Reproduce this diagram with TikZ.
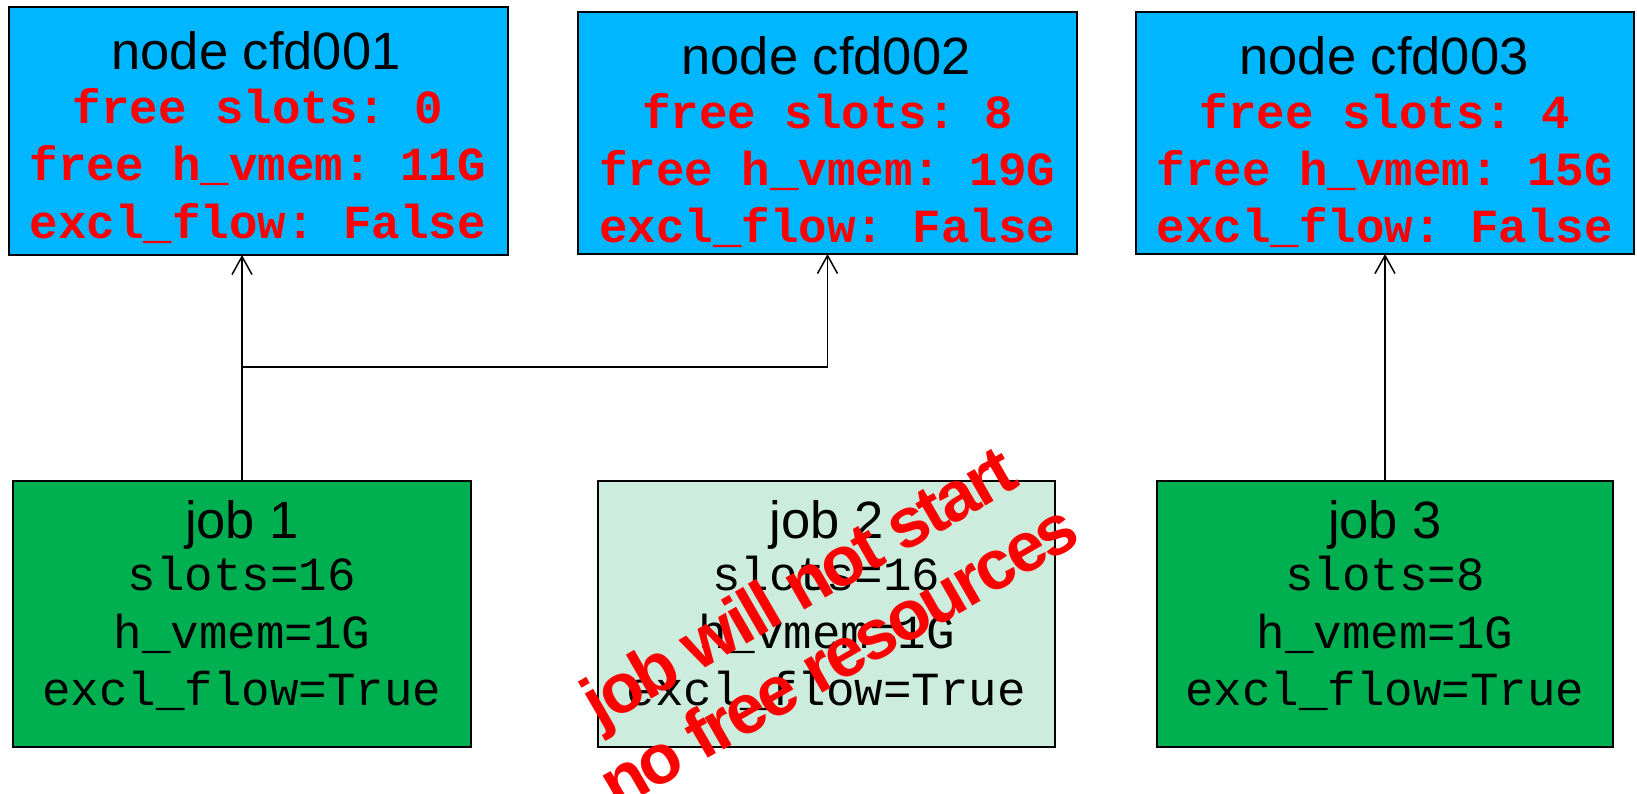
\documentclass[tikz,border=0pt]{standalone}
\usepackage{fontspec}
\setmainfont{Liberation Sans}
\setmonofont{Liberation Mono}
\newfontfamily\warnfont[LetterSpace=-5]{Liberation Sans}
\usetikzlibrary{arrows.meta}
\definecolor{hostblue}{HTML}{00B7FF}
\definecolor{jobgreen}{HTML}{00B050}
\definecolor{jobpale}{HTML}{CCECDD}
\definecolor{alertred}{HTML}{FF0000}
\begin{document}
\begin{tikzpicture}[x=1pt,y=-1pt,
  box/.style={draw=black, line width=1.5pt, inner sep=0pt, outer sep=0pt},
  hostbox/.style={box, fill=hostblue},
  runbox/.style={box, fill=jobgreen},
  waitbox/.style={box, fill=jobpale},
  title/.style={anchor=base, inner sep=0pt, font=\fontsize{52.5}{60}\selectfont},
  stat/.style={anchor=base, inner sep=0pt, text=alertred, font=\fontsize{47.5}{55}\selectfont\ttfamily\bfseries},
  req/.style={anchor=base, inner sep=0pt, font=\fontsize{47.5}{55}\selectfont\ttfamily},
  link/.style={draw=black, line width=1.5pt},
  arr/.style={link, -{Straight Barb[length=18pt, width=20pt, line width=1.5pt]}}
]
\clip (0,0) rectangle (1637,793);
\fill[white] (0,0) rectangle (1637,793);

% execution hosts
\node[hostbox, minimum width=499pt, minimum height=248pt] (n1) at (258.5,131) {};
\node[hostbox, minimum width=499pt, minimum height=242pt] (n2) at (827.5,133) {};
\node[hostbox, minimum width=498pt, minimum height=242pt] (n3) at (1385,133) {};

\node[title] (n1t) at (256,69) {node cfd001};
\node[stat]  (n1a) at (258,123) {free slots: 0};
\node[stat]  (n1b) at (258,180) {free h\_vmem: 11G};
\node[stat]  (n1c) at (258,238) {excl\_flow: False};

\node[title] (n2t) at (826,74) {node cfd002};
\node[stat]  (n2a) at (827.5,128) {free slots: 8};
\node[stat]  (n2b) at (827.5,185) {free h\_vmem: 19G};
\node[stat]  (n2c) at (827.5,242) {excl\_flow: False};

\node[title] (n3t) at (1384,74) {node cfd003};
\node[stat]  (n3a) at (1385,128) {free slots: 4};
\node[stat]  (n3b) at (1385,185) {free h\_vmem: 15G};
\node[stat]  (n3c) at (1385,242) {excl\_flow: False};

% jobs
\node[runbox,  minimum width=458pt, minimum height=266pt] (j1) at (242,614) {};
\node[waitbox, minimum width=457pt, minimum height=266pt] (j2) at (826.5,614) {};
\node[runbox,  minimum width=456pt, minimum height=266pt] (j3) at (1385,614) {};

\node[title] (j1t) at (242,538) {job 1};
\node[req]   (j1a) at (242,590) {slots=16};
\node[req]   (j1b) at (242,648) {h\_vmem=1G};
\node[req]   (j1c) at (242,705) {excl\_flow=True};

\node[title] (j2t) at (826.5,538) {job 2};
\node[req]   (j2a) at (826.5,590) {slots=16};
\node[req]   (j2b) at (826.5,648) {h\_vmem=1G};
\node[req]   (j2c) at (826.5,705) {excl\_flow=True};

\node[title] (j3t) at (1385,538) {job 3};
\node[req]   (j3a) at (1385,590) {slots=8};
\node[req]   (j3b) at (1385,648) {h\_vmem=1G};
\node[req]   (j3c) at (1385,705) {excl\_flow=True};

% placement of the jobs
\coordinate (fork) at (242,367);
\draw[arr] (j1.north) -- (j1.north |- n1.south);
\draw[arr] (fork) -- (n2.south |- fork) -- (n2.south);
\draw[arr] (j3.north) -- (n3.south);

% warning over the pending job
\node[rotate=30, align=center, inner sep=0pt, text=alertred,
      font=\warnfont\bfseries\fontsize{70}{80}\selectfont] (warn) at (818,620)
  {job will not start\\no free resources};
\end{tikzpicture}
\end{document}
